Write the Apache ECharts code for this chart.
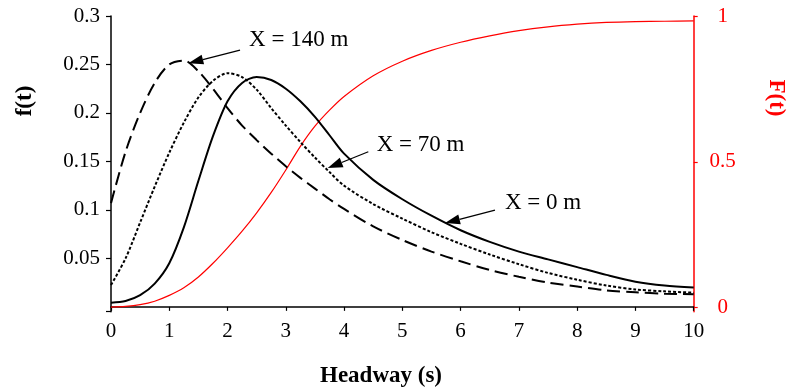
<!DOCTYPE html>
<html>
<head>
<meta charset="utf-8">
<script src="https://cdn.jsdelivr.net/npm/echarts@6.0.0/dist/echarts.min.js"></script>
<style>
    html, body { margin: 0; padding: 0; background: #fff; }
    #chart { width: 788px; height: 391px; }
</style>
</head>
<body>
<div id="chart"></div>
<script>
// headway (s)
let headway = [0, 0.25, 0.5, 0.75, 1, 1.25, 1.5, 1.75, 2, 2.25, 2.5, 2.75, 3, 3.25, 3.5, 3.75,
    4, 4.5, 5, 5.5, 6, 6.5, 7, 7.5, 8, 8.5, 9, 9.5, 10];
// f(t) for the three positions
let fX0 = [0.0043, 0.006, 0.012, 0.024, 0.045, 0.082, 0.130, 0.176, 0.212, 0.231, 0.237, 0.234, 0.225, 0.212, 0.196, 0.177,
    0.158, 0.131, 0.111, 0.094, 0.079, 0.067, 0.057, 0.049, 0.041, 0.033, 0.026, 0.022, 0.020];
let fX70 = [0.0225, 0.050, 0.087, 0.124, 0.159, 0.190, 0.216, 0.233, 0.241, 0.237, 0.224, 0.205, 0.187, 0.170, 0.154, 0.139,
    0.125, 0.106, 0.091, 0.077, 0.065, 0.054, 0.044, 0.035, 0.028, 0.022, 0.018, 0.016, 0.0146];
let fX140 = [0.107, 0.160, 0.200, 0.231, 0.250, 0.254, 0.243, 0.225, 0.205, 0.187, 0.172, 0.158, 0.145, 0.133, 0.122, 0.111,
    0.101, 0.083, 0.069, 0.057, 0.047, 0.038, 0.031, 0.025, 0.021, 0.017, 0.015, 0.0135, 0.013];
// F(t) cumulative
let cumF = [0.002, 0.004, 0.010, 0.022, 0.042, 0.068, 0.105, 0.152, 0.205, 0.262, 0.325, 0.395, 0.472, 0.553, 0.622, 0.677,
    0.724, 0.795, 0.845, 0.882, 0.910, 0.932, 0.950, 0.963, 0.972, 0.978, 0.981, 0.982, 0.983];

let xTicks = [0, 1, 2, 3, 4, 5, 6, 7, 8, 9, 10];
let fTicks = [0.05, 0.1, 0.15, 0.2, 0.25, 0.3];
let cumTicks = [0, 0.5, 1];
let fMin = -0.005;
let cumMin = -0.014;

// annotations: tip, tail and text start in data units (headway, f)
let notes = [
    { text: 'X = 140 m', tip: [1.327, 0.2513], tail: [2.214, 0.2649], at: [2.37, 0.2753] },
    { text: 'X = 70 m', tip: [3.719, 0.1431], tail: [4.416, 0.160], at: [4.56, 0.1671] },
    { text: 'X = 0 m', tip: [5.732, 0.0864], tail: [6.59, 0.0997], at: [6.76, 0.107] }
];

function pairs(ys) {
    return headway.map((t, i) => [t, ys[i]]);
}

let font = '"Liberation Serif", "Times New Roman", serif';
let chart = echarts.init(document.getElementById('chart'));

let option = {
    animation: false,
    grid: { left: 111, right: 94.3, top: 16, bottom: 79.3 },
    xAxis: {
        type: 'value',
        min: 0,
        max: 10,
        interval: 1,
        splitLine: { show: false },
        axisLine: { lineStyle: { color: '#000', width: 1.5 } },
        axisTick: { show: true, length: 4, lineStyle: { color: '#000', width: 1.2 } },
        axisLabel: { color: '#000', fontFamily: font, fontSize: 21, margin: 9, customValues: xTicks }
    },
    yAxis: [
        {
            type: 'value',
            min: fMin,
            max: 0.3,
            position: 'left',
            splitLine: { show: false },
            axisLine: { show: true, lineStyle: { color: '#000', width: 1.5 } },
            axisTick: { show: true, length: 5, customValues: [fMin].concat(fTicks), lineStyle: { color: '#000', width: 1.2 } },
            axisLabel: { color: '#000', fontFamily: font, fontSize: 21, margin: 11, customValues: fTicks }
        },
        {
            type: 'value',
            min: cumMin,
            max: 1,
            position: 'right',
            splitLine: { show: false },
            axisLine: { show: true, lineStyle: { color: '#ff0000', width: 1.5 } },
            axisTick: { show: true, length: 4, customValues: cumTicks, lineStyle: { color: '#ff0000', width: 1.2 } },
            axisLabel: { color: '#ff0000', fontFamily: font, fontSize: 21, margin: 29, align: 'center', customValues: cumTicks }
        }
    ],
    series: [
        {
            name: 'F(t)', type: 'line', yAxisIndex: 1, data: pairs(cumF), smooth: 0.3,
            showSymbol: false, silent: true,
            lineStyle: { color: '#ff0000', width: 1.2 }
        },
        {
            name: 'X = 140 m', type: 'line', data: pairs(fX140), smooth: 0.3,
            showSymbol: false, silent: true,
            lineStyle: { color: '#000', width: 2, type: [13, 6] }
        },
        {
            name: 'X = 70 m', type: 'line', data: pairs(fX70), smooth: 0.3,
            showSymbol: false, silent: true,
            lineStyle: { color: '#000', width: 2, type: [3, 2] }
        },
        {
            name: 'X = 0 m', type: 'line', data: pairs(fX0), smooth: 0.3,
            showSymbol: false, silent: true,
            lineStyle: { color: '#000', width: 2 }
        }
    ]
};
chart.setOption(option, true);

// axis titles and arrow notes
let graphics = [
    { type: 'text', x: 25, y: 101, rotation: Math.PI / 2,
      style: { text: 'f(t)', fill: '#000', font: 'bold 23px ' + font, align: 'center', verticalAlign: 'middle' } },
    { type: 'text', x: 776, y: 98, rotation: -Math.PI / 2,
      style: { text: 'F(t)', fill: '#ff0000', font: 'bold 23px ' + font, align: 'center', verticalAlign: 'middle' } },
    { type: 'text', x: 381, y: 376,
      style: { text: 'Headway (s)', fill: '#000', font: 'bold 23px ' + font, align: 'center', verticalAlign: 'middle' } }
];

notes.forEach(n => {
    let tip = chart.convertToPixel({ gridIndex: 0 }, n.tip);
    let tail = chart.convertToPixel({ gridIndex: 0 }, n.tail);
    let at = chart.convertToPixel({ gridIndex: 0 }, n.at);
    let dx = tail[0] - tip[0], dy = tail[1] - tip[1];
    let len = Math.sqrt(dx * dx + dy * dy);
    let ux = dx / len, uy = dy / len;
    let head = 15, half = 5;
    let bx = tip[0] + ux * head, by = tip[1] + uy * head;
    graphics.push({
        type: 'line',
        shape: { x1: tail[0], y1: tail[1], x2: bx, y2: by },
        style: { stroke: '#000', lineWidth: 1.3 }
    });
    graphics.push({
        type: 'polygon',
        shape: { points: [tip, [bx - uy * half, by + ux * half], [bx + uy * half, by - ux * half]] },
        style: { fill: '#000' }
    });
    graphics.push({
        type: 'text', x: at[0], y: at[1],
        style: { text: n.text, fill: '#000', font: '23px ' + font, align: 'left', verticalAlign: 'middle' }
    });
});

chart.setOption({ graphic: graphics });
</script>
</body>
</html>
